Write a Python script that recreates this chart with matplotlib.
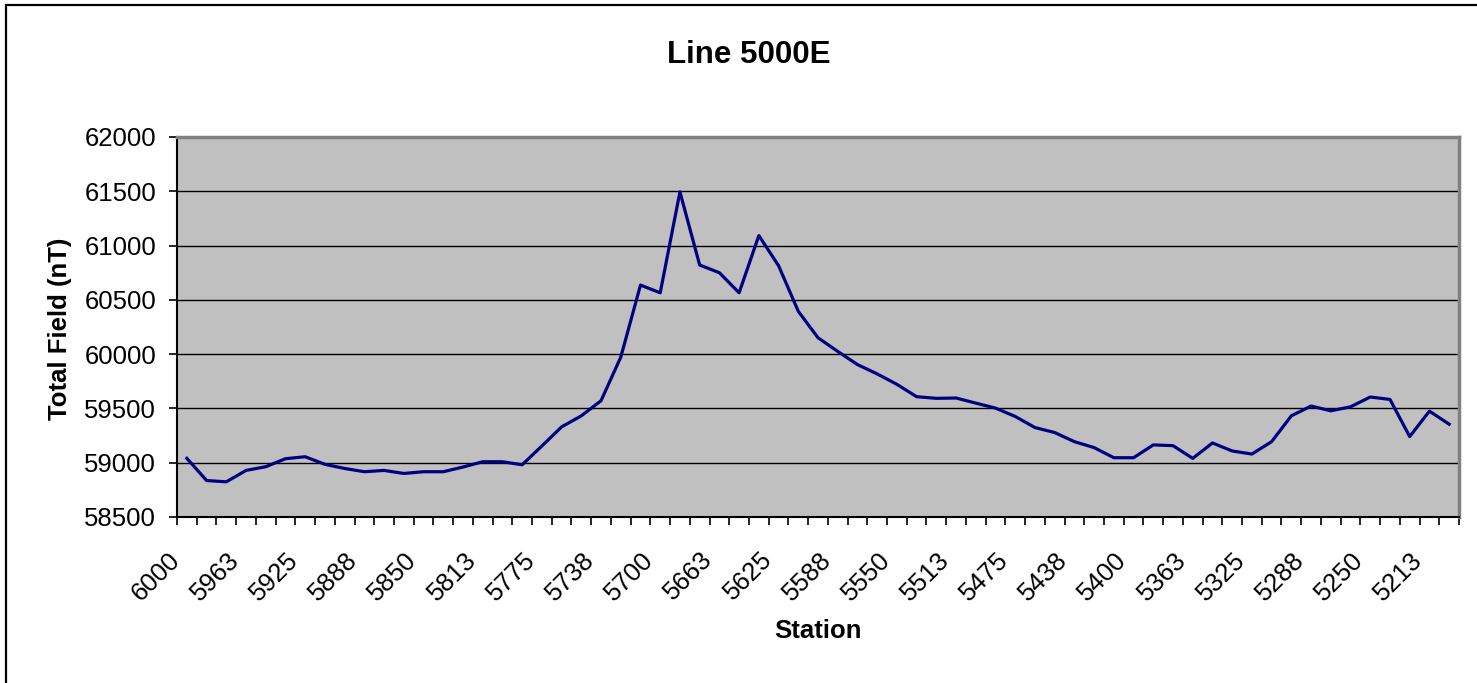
import matplotlib
matplotlib.use("Agg")
from matplotlib import pyplot as plt
from matplotlib.patches import Rectangle
from matplotlib.ticker import MultipleLocator, FixedLocator
import matplotlib.transforms as mtransforms
import numpy as np

plt.rcParams['font.family'] = ['Liberation Sans', 'DejaVu Sans']

# stations along the line, 12.5 m spacing
stations = [6000, 5987.5, 5975, 5962.5, 5950, 5937.5, 5925, 5912.5, 5900, 5887.5,
            5875, 5862.5, 5850, 5837.5, 5825, 5812.5, 5800, 5787.5, 5775, 5762.5,
            5750, 5737.5, 5725, 5712.5, 5700, 5687.5, 5675, 5662.5, 5650, 5637.5,
            5625, 5612.5, 5600, 5587.5, 5575, 5562.5, 5550, 5537.5, 5525, 5512.5,
            5500, 5487.5, 5475, 5462.5, 5450, 5437.5, 5425, 5412.5, 5400, 5387.5,
            5375, 5362.5, 5350, 5337.5, 5325, 5312.5, 5300, 5287.5, 5275, 5262.5,
            5250, 5237.5, 5225, 5212.5, 5200]

total_field = [59040, 58836, 58824, 58929, 58963, 59037, 59055, 58985, 58947, 58917,
               58929, 58901, 58917, 58917, 58960, 59009, 59009, 58981, 59154, 59330,
               59432, 59571, 59972, 60636, 60565, 61494, 60821, 60750, 60565, 61092,
               60815, 60395, 60151, 60025, 59904, 59818, 59722, 59608, 59593, 59596,
               59549, 59503, 59426, 59324, 59278, 59194, 59139, 59046, 59046, 59164,
               59157, 59040, 59182, 59108, 59080, 59194, 59432, 59522, 59478, 59515,
               59605, 59583, 59241, 59475, 59355]

tick_labels = ['6000', '5963', '5925', '5888', '5850', '5813', '5775', '5738',
               '5700', '5663', '5625', '5588', '5550', '5513', '5475', '5438',
               '5400', '5363', '5325', '5288', '5250', '5213']

W, H = 1477, 683
fig = plt.figure(figsize=(W / 100, H / 100), dpi=100)
ax = fig.add_axes([177 / W, 1 - 517 / H, (1459 - 177) / W, (517 - 137) / H])

x = np.arange(len(stations))
ax.set_facecolor('#C0C0C0')
ax.plot(x, total_field, color='#000080', lw=2.3, zorder=3)

ax.set_xlim(-0.5, len(stations) - 0.5)
ax.set_ylim(58500, 62000)
ax.yaxis.set_major_locator(MultipleLocator(500))
ax.grid(axis='y', color='black', lw=1.0)
ax.set_axisbelow(True)

# category boundaries get the tick marks, labels sit on every 3rd category
ax.xaxis.set_minor_locator(FixedLocator(np.arange(-0.5, len(stations), 1)))
ax.set_xticks(x[::3])
ax.set_xticklabels(tick_labels, rotation=45, ha='right', rotation_mode='anchor',
                   fontsize=18.5)
ax.tick_params(axis='x', which='major', length=0, pad=22)
ax.tick_params(axis='x', which='minor', length=6, width=1.2, direction='out',
               color='black')
ax.tick_params(axis='y', length=6, width=1.2, pad=9, labelsize=18.5)

shift = mtransforms.ScaledTranslation(-0.19, 0, fig.dpi_scale_trans)
for lab in ax.get_xticklabels():
    lab.set_transform(lab.get_transform() + shift)

for s in ['left', 'bottom']:
    ax.spines[s].set_color('black')
    ax.spines[s].set_linewidth(1.5)
for s in ['top', 'right']:
    ax.spines[s].set_color('#808080')
    ax.spines[s].set_linewidth(2.5)

fig.text(749 / W, 1 - 55 / H, 'Line 5000E', ha='center', va='center',
         fontsize=22.5, fontweight='bold')
fig.text(60 / W, 1 - 329 / H, 'Total Field (nT)', ha='center', va='center',
         rotation=90, fontsize=18.5, fontweight='bold')
fig.text(818 / W, 1 - 631 / H, 'Station', ha='center', va='center',
         fontsize=18.5, fontweight='bold')

# chart border, cut off at the right and bottom like the original
fig.patches.append(Rectangle((6 / W, -0.2), 2, 1.2 - 5 / H, transform=fig.transFigure,
                             fill=False, ec='black', lw=1.6))

fig.savefig('out.png', dpi=100)
